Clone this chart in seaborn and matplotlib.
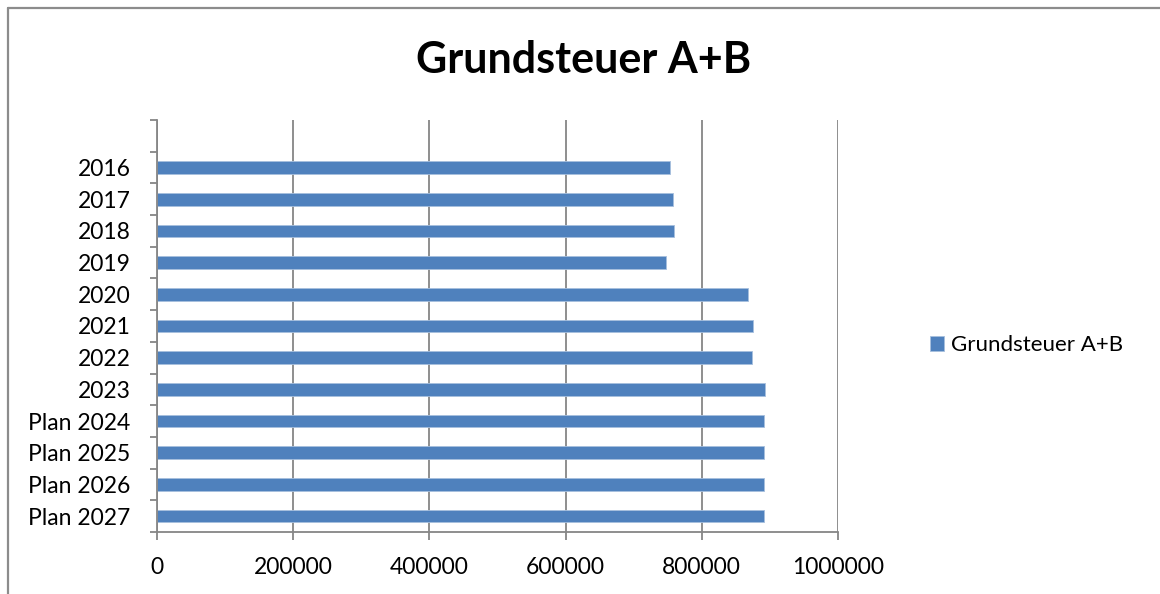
import seaborn as sns
import matplotlib.pyplot as plt
import pandas as pd
from matplotlib.lines import Line2D

categories = ['2016', '2017', '2018', '2019', '2020', '2021', '2022', '2023',
              'Plan 2024', 'Plan 2025', 'Plan 2026', 'Plan 2027']
values = [754000, 758000, 759000, 748000, 868000, 875000, 874000, 893000,
          892000, 892000, 892000, 892000]
series_name = 'Grundsteuer A+B'
x_ticks = [0, 200000, 400000, 600000, 800000, 1000000]

df = pd.DataFrame({'Jahr': categories, 'Betrag': values})

sns.set_style('white')
plt.rcParams['font.family'] = ['Lato', 'DejaVu Sans']
plt.rcParams['text.color'] = 'black'
plt.rcParams['xtick.color'] = 'black'
plt.rcParams['ytick.color'] = 'black'

fig = plt.figure(figsize=(11.6, 5.94), dpi=100)
ax = fig.add_axes([157/1160, 1-532/594, 681/1160, 412/594])

sns.barplot(data=df, x='Betrag', y='Jahr', order=categories, color='#4F81BD',
            saturation=1, width=0.4, edgecolor='#A7BFDE', linewidth=0.6,
            label=series_name, ax=ax)
if ax.get_legend() is not None:
    ax.get_legend().remove()

grid_col = '#868686'
ax.set_xlim(0, 1000000)
ax.set_ylim(len(categories) - 0.5, -1.5)
ax.set_xticks(x_ticks)
ax.set_xticklabels([str(t) for t in x_ticks], fontsize=16.5)
ax.set_xlabel('')
ax.set_ylabel('')
ax.set_yticks(range(len(categories)), minor=False)
ax.set_yticks([i - 0.5 for i in range(-1, len(categories) + 1)], minor=True)
ax.tick_params(axis='y', which='major', left=True, length=0, labelsize=16.5, pad=19,
               labelcolor='black')
ax.tick_params(axis='y', which='minor', left=True, length=5, color=grid_col, width=1.3,
               direction='out')
ax.tick_params(axis='x', bottom=True, length=6, color=grid_col, width=1.3, direction='out',
               pad=12, labelcolor='black')
ax.grid(axis='x', color=grid_col, linewidth=1.3)
ax.set_axisbelow(True)
for s in ['top', 'right']:
    ax.spines[s].set_visible(False)
for s in ['left', 'bottom']:
    ax.spines[s].set_color(grid_col)
    ax.spines[s].set_linewidth(1.3)

fig.text(584/1160, 1-60/594, series_name, ha='center', va='center',
         fontsize=31, fontweight='bold', color='black')

handles, labels = ax.get_legend_handles_labels()
fig.legend(handles[:1], labels[:1], loc='center left', bbox_to_anchor=(910/1160, 1-345/594),
           frameon=False, fontsize=16, handlelength=0.65, handleheight=0.65,
           handletextpad=0.3)

# outer frame of the chart area
fig.add_artist(Line2D([8/1160, 8/1160], [0, 1-8/594], color='#8c8c8c', lw=1.6))
fig.add_artist(Line2D([8/1160, 1], [1-8/594, 1-8/594], color='#8c8c8c', lw=1.6))

fig.savefig('out.png', dpi=100)
